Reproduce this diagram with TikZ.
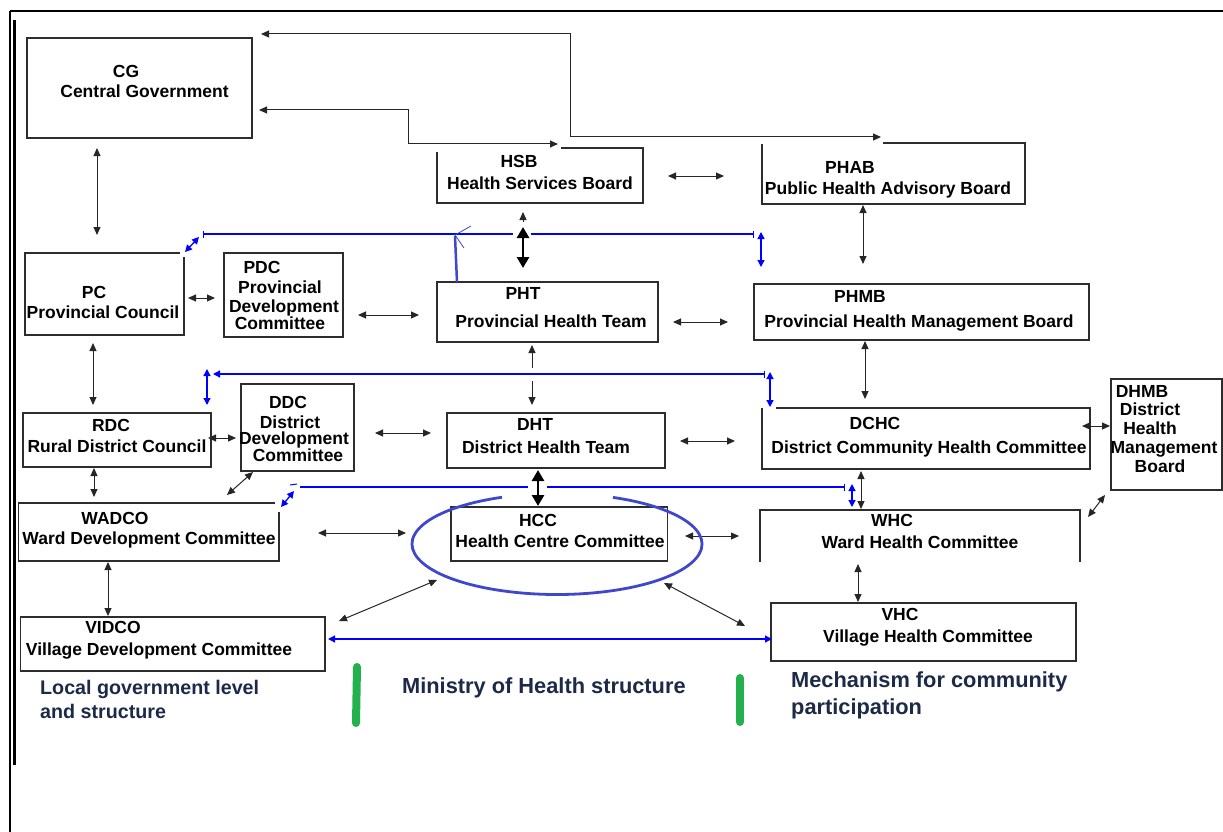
\documentclass[tikz,border=0pt]{standalone}
\usepackage{fontspec}
\setmainfont{Liberation Sans}
\usetikzlibrary{arrows.meta}
\definecolor{navy}{RGB}{28,42,72}
\definecolor{hand}{RGB}{63,72,204}
\definecolor{gbar}{RGB}{34,177,76}
\definecolor{edge}{RGB}{45,45,45}
\begin{document}
\begin{tikzpicture}[x=1pt,y=-1pt,
  >={Triangle[length=8pt,width=7pt]},
  bx/.style={draw=edge, line width=1.1pt, inner sep=0pt, outer sep=0pt},
  bxn/.style={inner sep=0pt, outer sep=0pt},
  edg/.style={draw=edge, line width=1.1pt},
  t/.style={font=\fontsize{17.5}{19}\selectfont\bfseries, inner sep=0pt, anchor=base},
  dbl/.style={<->, line width=1pt, black!85},
  sgl/.style={->, line width=1pt, black!85},
  thk/.style={{Triangle[length=11pt,width=12pt]}-{Triangle[length=11pt,width=12pt]}, line width=2.8pt},
  bl/.style={blue, line width=1.3pt},
  bdbl/.style={blue, line width=1.3pt, {Triangle[length=7pt,width=7pt]}-{Triangle[length=7pt,width=7pt]}},
  leg/.style={font=\fontsize{21.8}{26}\selectfont\bfseries, text=navy, inner sep=0pt, anchor=base west},
  legs/.style={font=\fontsize{19.7}{24}\selectfont\bfseries, text=navy, inner sep=0pt, anchor=base west},
]
\useasboundingbox (0,0) rectangle (1223,832);
% frame
\draw[line width=2pt] (10,11) -- (1223,11);
\draw[line width=1.3pt] (10,11) -- (10,832);
\draw[line width=3pt] (14,20) -- (14,765);

% boxes
\node[bx, minimum width=225pt, minimum height=100pt] (cg) at (139.5,88) {};
\node[bxn, minimum width=206pt, minimum height=55pt] (hsb) at (540,175.5) {};
\node[bxn, minimum width=263pt, minimum height=61pt] (phab) at (893.5,173.5) {};
\node[bxn, minimum width=159pt, minimum height=82pt] (pc) at (104.5,294) {};
\node[bx, minimum width=119pt, minimum height=84pt] (pdc) at (283.5,295) {};
\node[bx, minimum width=221pt, minimum height=60pt] (pht) at (547.5,312) {};
\node[bx, minimum width=335pt, minimum height=56pt] (phmb) at (921.5,312) {};
\node[bx, minimum width=188pt, minimum height=54pt] (rdc) at (117,440) {};
\node[bx, minimum width=113pt, minimum height=87pt] (ddc) at (297.5,427.5) {};
\node[bx, minimum width=218pt, minimum height=55pt] (dht) at (556,440.5) {};
\node[bxn, minimum width=328pt, minimum height=61pt] (dchc) at (926,438.5) {};
\node[bx, minimum width=111pt, minimum height=111pt] (dhmb) at (1166.5,434.5) {};
\node[bxn, minimum width=260.5pt, minimum height=58pt] (wadco) at (148.75,532) {};
\node[bx, minimum width=216.5pt, minimum height=54pt] (hcc) at (559.25,534) {};
\node[bxn, minimum width=320pt, minimum height=52pt] (whc) at (920,536) {};
\node[bx, minimum width=304.5pt, minimum height=54pt] (vidco) at (172.75,644) {};
\node[bx, minimum width=305pt, minimum height=58pt] (vhc) at (923.5,632) {};

% box outlines with gaps
\draw[edg] ([shift={(124,0)}]hsb.north west) -- (hsb.north east) -- (hsb.south east) -- (hsb.south west) -- ([shift={(0,4)}]hsb.north west);
\draw[edg] ([shift={(121,0)}]phab.north west) -- (phab.north east) -- (phab.south east) -- (phab.south west) -- ([shift={(0,1)}]phab.north west);
\draw[edg] ([shift={(-4,0)}]pc.north east) -- (pc.north west) -- (pc.south west) -- (pc.south east) -- ([shift={(0,4)}]pc.north east);
\draw[edg] ([shift={(14,0)}]dchc.north west) -- (dchc.north east) -- (dchc.south east) -- (dchc.south west) -- (dchc.north west);
\draw[edg] ([shift={(-4,0)}]wadco.north east) -- (wadco.north west) -- (wadco.south west) -- (wadco.south east) -- ([shift={(0,9)}]wadco.north east);
\draw[edg] (whc.south west) -- (whc.north west) -- (whc.north east) -- (whc.south east);

% texts
\node[t] (cg1) at (126,78) {CG};
\node[t] (cg2) at (144.5,98) {Central Government};
\node[t] (hsb1) at (519,167) {HSB};
\node[t] (hsb2) at (540,189) {Health Services Board};
\node[t] (phab1) at (850,173) {PHAB};
\node[t] (phab2) at (888,194) {Public Health Advisory Board};
\node[t] (pc1) at (94,298) {PC};
\node[t] (pc2) at (103,318) {Provincial Council};
\node[t] (pdc1) at (262,273) {PDC};
\node[t] (pdc2) at (280,293) {Provincial};
\node[t] (pdc3) at (284,312) {Development};
\node[t] (pdc4) at (280,329) {Committee};
\node[t] (pht1) at (523,299) {PHT};
\node[t] (pht2) at (551,327) {Provincial Health Team};
\node[t] (phmb1) at (860,302) {PHMB};
\node[t] (phmb2) at (919,327) {Provincial Health Management Board};
\node[t] (rdc1) at (111,431) {RDC};
\node[t] (rdc2) at (117,452) {Rural District Council};
\node[t] (ddc1) at (288,408) {DDC};
\node[t] (ddc2) at (290,428) {District};
\node[t] (ddc3) at (294,444) {Development};
\node[t] (ddc4) at (298,461) {Committee};
\node[t] (dht1) at (535,430) {DHT};
\node[t] (dht2) at (546,453) {District Health Team};
\node[t] (dchc1) at (875,429) {DCHC};
\node[t] (dchc2) at (929,453) {District Community Health Committee};
\node[t] (dhmb1) at (1142,397) {DHMB};
\node[t] (dhmb2) at (1150,415) {District};
\node[t] (dhmb3) at (1150,434) {Health};
\node[t] (dhmb4) at (1164,453) {Management};
\node[t] (dhmb5) at (1160,472) {Board};
\node[t] (wadco1) at (115,524) {WADCO};
\node[t] (wadco2) at (149,544) {Ward Development Committee};
\node[t] (hcc1) at (538,526) {HCC};
\node[t] (hcc2) at (560,547) {Health Centre Committee};
\node[t] (whc1) at (892,526) {WHC};
\node[t] (whc2) at (920,548) {Ward Health Committee};
\node[t] (vhc1) at (900,620) {VHC};
\node[t] (vhc2) at (928,642) {Village Health Committee};
\node[t] (vidco1) at (113,633) {VIDCO};
\node[t] (vidco2) at (159,655) {Village Development Committee};

% black connectors
\draw[dbl] ([shift={(9,-4)}]cg.north east) -| (570,137) -- ([shift={(119,-6)}]phab.north west);
\draw[dbl] ([shift={(7,22)}]cg.east) -| (408,144) -- ([shift={(121,-4)}]hsb.north west);
\draw[dbl] ([shift={(25,0.5)}]hsb.east) -- ([shift={(-38,2.5)}]phab.west);
\draw[dbl] ([shift={(101,1)}]phab.south west) -- ([shift={(109,-20)}]phmb.north west);
\draw[dbl] ([shift={(70,10)}]cg.south west) -- ([shift={(72,-18)}]pc.north west);
\draw[sgl] ([shift={(86,19)}]hsb.south west) -- ([shift={(86,9)}]hsb.south west);
\draw[thk] ([shift={(86,-55)}]pht.north west) -- ([shift={(86,-14)}]pht.north west);
\draw[dbl] ([shift={(4,4)}]pc.east) -- ([shift={(-9,3)}]pdc.west);
\draw[dbl] ([shift={(15,20)}]pdc.east) -- ([shift={(-18,3)}]pht.west);
\draw[dbl] ([shift={(15,10)}]pht.east) -- ([shift={(-26,10)}]phmb.west);
\draw[dbl] ([shift={(68,8)}]pc.south west) -- ([shift={(70,-8)}]rdc.north west);
\draw[sgl] ([shift={(95,26)}]pht.south west) -- ([shift={(95,3)}]pht.south west);
\draw[sgl] ([shift={(85,-32)}]dht.north west) -- ([shift={(85,-8)}]dht.north west);
\draw[dbl] ([shift={(111,1)}]phmb.south west) -- ([shift={(103,-9)}]dchc.north west);
\draw[dbl] ([shift={(-3,-2)}]rdc.east) -- ([shift={(-5,10.5)}]ddc.west);
\draw[dbl] ([shift={(21,5.5)}]ddc.east) -- ([shift={(-16,-7.5)}]dht.west);
\draw[dbl] ([shift={(15,0.5)}]dht.east) -- ([shift={(-27,2.5)}]dchc.west);
\draw[dbl] ([shift={(-8,-12.5)}]dchc.east) -- ([shift={(-1,-8.5)}]dhmb.west);
\draw[dbl] ([shift={(-6,5)}]dhmb.south west) -- ([shift={(8,7)}]whc.north east);
\draw[dbl] ([shift={(71,1)}]rdc.south west) -- ([shift={(75.5,-6)}]wadco.north west);
\draw[dbl] ([shift={(12,1)}]ddc.south west) -- ([shift={(-52,-8)}]wadco.north east);
\draw[thk] ([shift={(91,2)}]dht.south west) -- ([shift={(87,-1)}]hcc.north west);
\draw[dbl] ([shift={(99,2)}]dchc.south west) -- ([shift={(101,-1)}]whc.north west);
\draw[dbl] ([shift={(39,1)}]wadco.east) -- ([shift={(-45,-1)}]hcc.west);
\draw[dbl] ([shift={(17.5,2)}]hcc.east) -- ([shift={(-21,0)}]whc.west);
\draw[dbl] ([shift={(89.5,1)}]wadco.south west) -- ([shift={(87.5,-1)}]vidco.north west);
\draw[dbl] ([shift={(-14,19)}]hcc.south west) -- ([shift={(14,4)}]vidco.north east);
\draw[dbl] ([shift={(-3.5,22)}]hcc.south east) -- ([shift={(-26,-6)}]vhc.west);
\draw[dbl] ([shift={(98,2)}]whc.south west) -- ([shift={(87,-1)}]vhc.north west);

% blue mechanism lines
\draw[bl, {Bar[width=7pt]}-] ([shift={(19,-19)}]pc.north east) -- ([shift={(76,-48)}]pht.north west);
\draw[bl, -{Bar[width=7pt]}] ([shift={(94,-48)}]pht.north west) -- ([shift={(0,-50)}]phmb.north west);
\draw[bdbl] ([shift={(1,-1)}]pc.north east) -- ([shift={(15,-16)}]pc.north east);
\draw[bdbl] ([shift={(7,-52)}]phmb.north west) -- ([shift={(7,-17)}]phmb.north west);
\draw[hand, line width=2.5pt] ([shift={(20,0)}]pht.north west) -- ([shift={(18,-46)}]pht.north west);
\draw[hand, line width=0.8pt] ([shift={(34,-56)}]pht.north west) -- ([shift={(18,-47)}]pht.north west) -- ([shift={(27,-34)}]pht.north west);

\draw[bl, {Triangle[length=7pt,width=7pt]}-{Bar[width=7pt]}] ([shift={(2,-39)}]rdc.north east) -- ([shift={(3,-34)}]dchc.north west);
\draw[bdbl] ([shift={(-4,-44)}]rdc.north east) -- ([shift={(-4,-8)}]rdc.north east);
\draw[bdbl] ([shift={(8,-36)}]dchc.north west) -- ([shift={(8,-1)}]dchc.north west);

\draw[bl] ([shift={(21,-16)}]wadco.north east) -- ([shift={(77,-20)}]hcc.north west);
\draw[bl, -{Bar[width=7pt]}] ([shift={(96,-20)}]hcc.north west) -- ([shift={(85,-23)}]whc.north west);
\draw[blue, line width=1pt] ([shift={(11,-18)}]wadco.north east) -- ([shift={(18,-19)}]wadco.north east);
\draw[bdbl] ([shift={(2,4)}]wadco.north east) -- ([shift={(15,-12)}]wadco.north east);
\draw[bdbl] ([shift={(92,-26)}]whc.north west) -- ([shift={(92,-3)}]whc.north west);
\draw[bdbl] ([shift={(3,-5)}]vidco.east) -- ([shift={(1,7)}]vhc.west);

% ellipse round HCC
\draw[hand, line width=2.8pt] (612.96,497.41) arc[start angle=292.7, end angle=607.7, x radius=145, y radius=50.5];

% legend
\draw[gbar, line width=8pt, line cap=round] (357,667) -- (356,723);
\draw[gbar, line width=8pt, line cap=round] (740,678) -- (740,722);
\node[legs] (leg1) at (40,694) {Local government level};
\node[legs] (leg2) at (40,718) {and structure};
\node[leg] (leg3) at (402,693) {Ministry of Health structure};
\node[leg] (leg4) at (791,687) {Mechanism for community};
\node[leg] (leg5) at (791,714) {participation};
\end{tikzpicture}
\end{document}
